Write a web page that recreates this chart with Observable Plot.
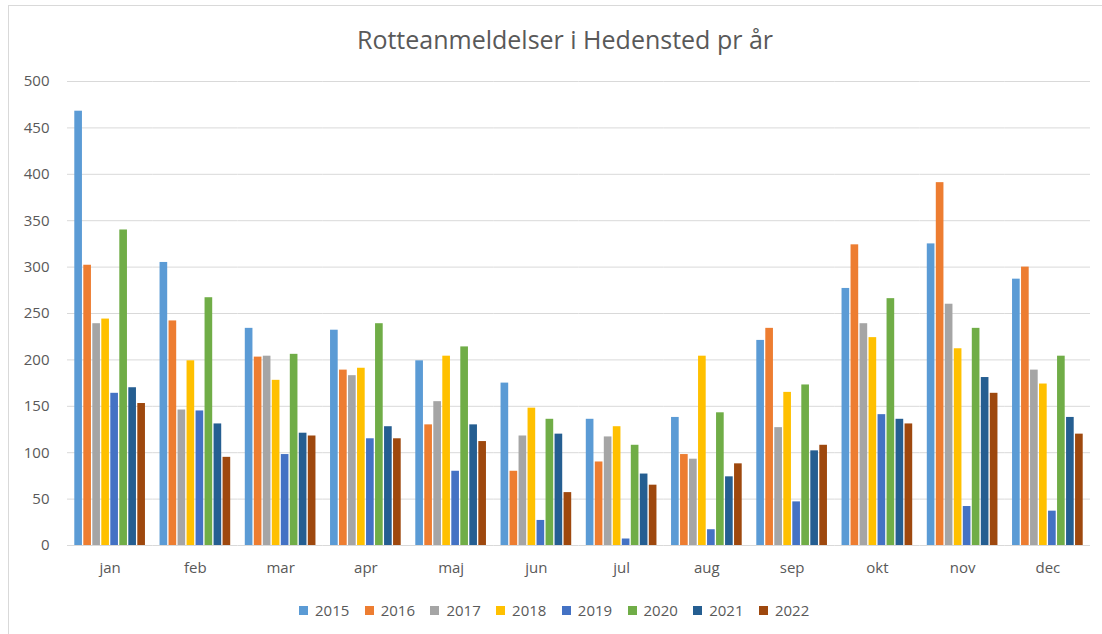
<!DOCTYPE html>
<html>
<head>
<meta charset="utf-8">
<script src="https://cdn.jsdelivr.net/npm/d3@7"></script>
<script src="https://cdn.jsdelivr.net/npm/@observablehq/plot@0.6"></script>
<style>
  html, body { margin: 0; padding: 0; background: #fff; overflow: hidden; }
  body { width: 1102px; height: 634px; position: relative; font-family: "Open Sans", sans-serif; color: #595959; }
  #frame { position: absolute; left: 8px; top: 5px; width: 1200px; height: 800px; border: 1px solid #d9d9d9; box-sizing: border-box; }
  #title { position: absolute; left: 0; top: 22px; width: 1130px; text-align: center; font-size: 25px; line-height: 34px; color: #595959; }
  #chart { position: absolute; left: 0; top: 70px; }
  #legend { position: absolute; left: 299px; top: 600px; display: flex; align-items: center; font-size: 15px; line-height: 20px; }
  .item { display: flex; align-items: center; margin-right: 15.4px; }
  .sw { width: 9px; height: 9px; margin-right: 7px; }
</style>
</head>
<body>
<div id="frame"></div>
<div id="title">Rotteanmeldelser i Hedensted pr år</div>
<div id="chart"></div>
<div id="legend"></div>
<script>
const months = ["jan","feb","mar","apr","maj","jun","jul","aug","sep","okt","nov","dec"];
const years = ["2015","2016","2017","2018","2019","2020","2021","2022"];
const colors = ["#5B9BD5","#ED7D31","#A5A5A5","#FFC000","#4472C4","#70AD47","#255E91","#9E480E"];
const yTicks = [0,50,100,150,200,250,300,350,400,450,500];

const v2015 = [468,305,234,232,199,175,136,138,221,277,325,287];
const v2016 = [302,242,203,189,130,80,90,98,234,324,391,300];
const v2017 = [239,146,204,183,155,118,117,93,127,239,260,189];
const v2018 = [244,199,178,191,204,148,128,204,165,224,212,174];
const v2019 = [164,145,98,115,80,27,7,17,47,141,42,37];
const v2020 = [340,267,206,239,214,136,108,143,173,266,234,204];
const v2021 = [170,131,121,128,130,120,77,74,102,136,181,138];
const v2022 = [153,95,118,115,112,57,65,88,108,131,164,120];

const series = [v2015,v2016,v2017,v2018,v2019,v2020,v2021,v2022];
const data = [];
years.forEach((yr, i) => {
  months.forEach((m, j) => {
    data.push({month: m, year: yr, value: series[i][j]});
  });
});

const chart = Plot.plot({
  width: 1102,
  height: 520,
  marginTop: 11,
  marginBottom: 45,
  marginLeft: 67,
  marginRight: 12,
  style: {fontFamily: "Open Sans", fontSize: "15px", color: "#595959", background: "transparent", overflow: "visible"},
  fx: {domain: months, paddingInner: 0, paddingOuter: 0, round: false, axis: "bottom", label: null, tickSize: 0, tickPadding: 17},
  x: {domain: years, axis: null, paddingInner: 0.15, paddingOuter: 0.81, round: false},
  y: {domain: [0, 500], ticks: yTicks, tickSize: 0, tickPadding: 18, label: null, grid: false},
  color: {domain: years, range: colors},
  marks: [
    Plot.ruleY(yTicks, {stroke: "#d9d9d9", strokeWidth: 1}),
    Plot.barY(data, {fx: "month", x: "year", y: "value", fill: "year"})
  ]
});
document.getElementById("chart").appendChild(chart);

const legend = document.getElementById("legend");
years.forEach((yr, i) => {
  const it = document.createElement("div");
  it.className = "item";
  const sw = document.createElement("div");
  sw.className = "sw";
  sw.style.background = colors[i];
  const t = document.createElement("span");
  t.textContent = yr;
  it.appendChild(sw);
  it.appendChild(t);
  legend.appendChild(it);
});
</script>
</body>
</html>
